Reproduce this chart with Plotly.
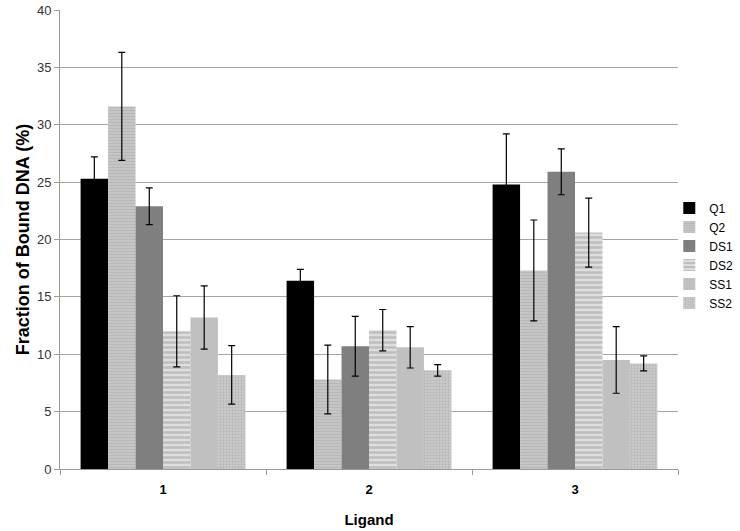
import plotly.graph_objects as go

ligands = ["1", "2", "3"]
series = ["Q1", "Q2", "DS1", "DS2", "SS1", "SS2"]
values = {
    "Q1": [25.3, 16.4, 24.8],
    "Q2": [31.6, 7.8, 17.3],
    "DS1": [22.9, 10.7, 25.9],
    "DS2": [12.0, 12.1, 20.6],
    "SS1": [13.2, 10.6, 9.5],
    "SS2": [8.2, 8.6, 9.2],
}
errors = {
    "Q1": [1.9, 1.0, 4.4],
    "Q2": [4.7, 3.0, 4.4],
    "DS1": [1.6, 2.6, 2.0],
    "DS2": [3.1, 1.8, 3.0],
    "SS1": [2.75, 1.8, 2.9],
    "SS2": [2.55, 0.5, 0.65],
}

styles = {
    "Q1": dict(color="#000000"),
    "Q2": dict(color="#c4c4c4", pattern=dict(shape="-", fgcolor="#a8a8a8", bgcolor="#c6c6c6", size=3, solidity=0.4)),
    "DS1": dict(color="#7f7f7f"),
    "DS2": dict(color="#dcdcdc", pattern=dict(shape="-", fgcolor="#9e9e9e", bgcolor="#dedede", size=5, solidity=0.5)),
    "SS1": dict(color="#c0c0c0"),
    "SS2": dict(color="#c8c8c8", pattern=dict(shape=".", fgcolor="#a0a0a0", bgcolor="#cdcdcd", size=3, solidity=0.45)),
}

fig = go.Figure()
for s in series:
    st = styles[s]
    marker = dict(color=st["color"], line=dict(width=0))
    if "pattern" in st:
        marker["pattern"] = st["pattern"]
    fig.add_trace(go.Bar(
        name=s, x=ligands, y=values[s], marker=marker,
        error_y=dict(type="data", array=errors[s], color="#000000", thickness=1.2, width=3.5),
    ))

font = "Liberation Sans, Arial, sans-serif"
fig.update_layout(
    barmode="group", bargap=0.2, bargroupgap=0,
    width=740, height=531,
    margin=dict(l=60, r=0, t=10, b=62, autoexpand=False),
    paper_bgcolor="white", plot_bgcolor="white",
    font=dict(family=font, size=12, color="#222222"),
    showlegend=True,
    legend=dict(x=0.896, y=0.465, xanchor="left", yanchor="middle",
                font=dict(size=12, color="#000000"), tracegroupgap=0,
                itemwidth=30, bgcolor="rgba(0,0,0,0)"),
    xaxis=dict(
        domain=[0, 618 / 680],
        automargin=False,
        title=dict(text="<b>Ligand</b>", font=dict(size=15, color="#000000"), standoff=18),
        tickfont=dict(size=13, color="#000000"),
        tickprefix="<b>", ticksuffix="</b>",
        ticklabelstandoff=8,
        showline=True, linecolor="#999999", linewidth=1,
        ticks="outside", ticklen=5, tickcolor="#999999", tickson="boundaries",
        showgrid=False,
    ),
    yaxis=dict(
        automargin=False,
        title=dict(text="<b>Fraction of Bound DNA (%)</b>", font=dict(size=18, color="#000000"), standoff=2),
        range=[0, 40], dtick=5, tick0=0,
        tickfont=dict(size=13, color="#333333"),
        showline=True, linecolor="#999999", linewidth=1,
        ticks="outside", ticklen=5, tickcolor="#999999",
        showgrid=True, gridcolor="#a6a6a6", gridwidth=1,
        zeroline=False,
    ),
)

fig.write_html("out.html", config={"displayModeBar": False},
               post_script="document.body.style.margin='0';")
